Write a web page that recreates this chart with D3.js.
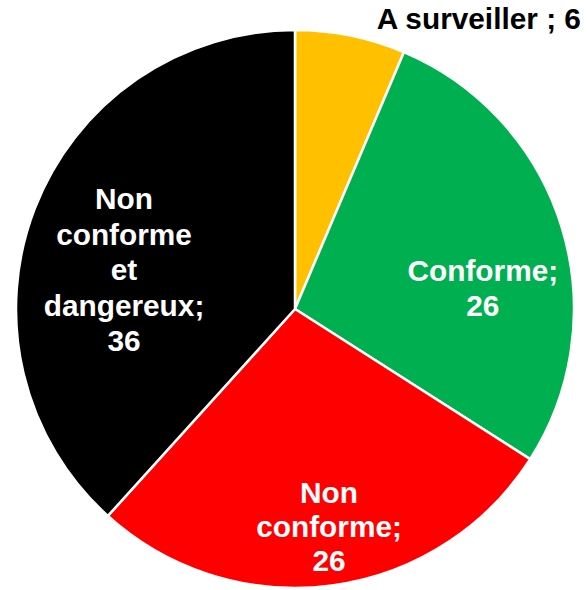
<!DOCTYPE html>
<html>
<head>
<meta charset="utf-8">
<script src="https://cdn.jsdelivr.net/npm/d3@7"></script>
<style>
  html, body { margin: 0; padding: 0; background: #ffffff; }
  svg { display: block; }
</style>
</head>
<body>
<svg id="chart" width="587" height="590"></svg>
<script>
// ---- Data ----
const categories = ["A surveiller", "Conforme", "Non conforme", "Non conforme et dangereux"];
const values = [6, 26, 26, 36];
const colors = ["#FFC000", "#00B050", "#FF0000", "#000000"];
const labelLines = [
  ["A surveiller ; 6"],
  ["Conforme;", "26"],
  ["Non", "conforme;", "26"],
  ["Non", "conforme", "et", "dangereux;", "36"]
];
const labelColors = ["#000000", "#ffffff", "#ffffff", "#ffffff"];
// label placement (angle in degrees clockwise from top, distance from centre)
const labelAngle = [32.3, 83.6, 171.1, 283];
const labelDist = [344, 189, 220, 175.5];
const lineHeights = [35, 35, 34, 35.5];

// ---- Layout ----
const width = 587, height = 590;
const cx = 295, cy = 309, radius = 279;
const fontSize = 29.8;

const svg = d3.select("#chart");
const g = svg.append("g").attr("transform", `translate(${cx},${cy})`);

const data = categories.map((c, i) => ({ name: c, value: values[i], i }));

const pie = d3.pie().sort(null).value(d => d.value);
const arc = d3.arc().innerRadius(0).outerRadius(radius);

g.selectAll("path.slice")
  .data(pie(data))
  .join("path")
  .attr("class", "slice")
  .attr("d", arc)
  .attr("fill", d => colors[d.data.i])
  .attr("stroke", "#ffffff")
  .attr("stroke-width", 2.5)
  .attr("stroke-linejoin", "round");

const labels = g.selectAll("text.lbl")
  .data(data)
  .join("text")
  .attr("class", "lbl")
  .attr("font-family", "'Liberation Sans', Arial, sans-serif")
  .attr("font-weight", "bold")
  .attr("font-size", fontSize)
  .attr("fill", d => labelColors[d.i])
  .attr("text-anchor", "middle")
  .each(function(d) {
    const [x, y] = d3.pointRadial(labelAngle[d.i] * Math.PI / 180, labelDist[d.i]);
    const lines = labelLines[d.i];
    const lh = lineHeights[d.i];
    const firstBase = y + fontSize * 0.36 - (lines.length - 1) * lh / 2;
    const t = d3.select(this);
    lines.forEach((ln, k) => {
      t.append("tspan")
        .attr("x", x)
        .attr("y", firstBase + k * lh)
        .text(ln);
    });
  });
</script>
</body>
</html>
